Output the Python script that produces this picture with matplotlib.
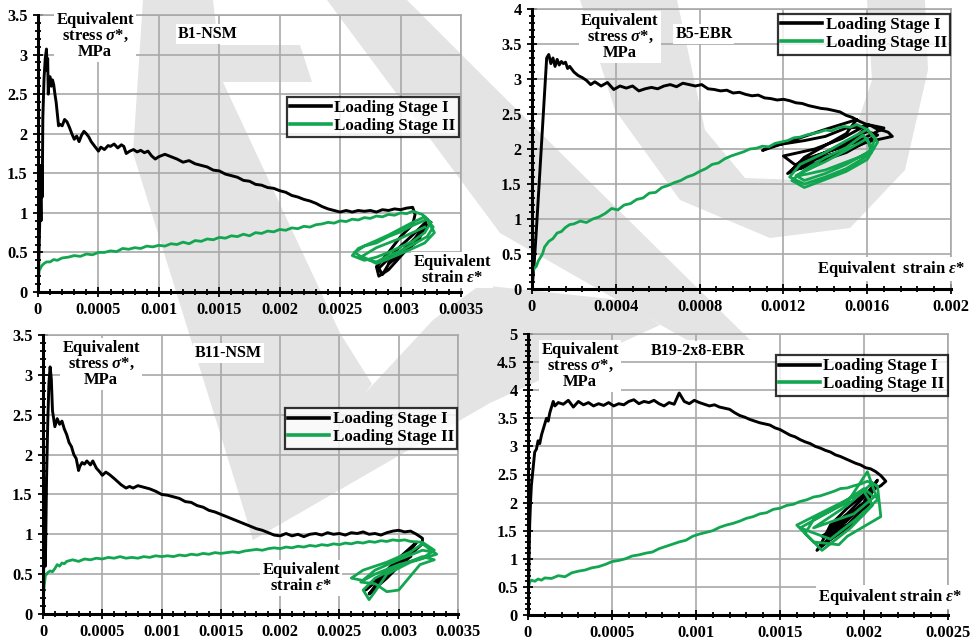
import matplotlib
matplotlib.use("Agg")
import matplotlib.pyplot as plt
from matplotlib.patches import Polygon
from matplotlib.ticker import MultipleLocator

plt.rcParams['font.family'] = ['Liberation Serif', 'DejaVu Serif']
plt.rcParams['font.weight'] = 'bold'
plt.rcParams['mathtext.fontset'] = 'custom'
plt.rcParams['mathtext.it'] = 'Liberation Serif:italic:bold'
plt.rcParams['mathtext.rm'] = 'Liberation Serif:bold'

# ---------------- data ----------------
series_names = ["Loading Stage I", "Loading Stage II"]
panel_titles = ["B1-NSM", "B5-EBR", "B11-NSM", "B19-2x8-EBR"]

# B1-NSM
b1_I_x = [0, 0.00001, 0.00002, 0.000025, 0.00003, 0.000035, 0.00004, 0.00005, 0.00006, 0.00007, 0.000075,
          0.00008, 0.000085, 0.00009, 0.0001, 0.00011, 0.00012, 0.00013, 0.00014, 0.00015, 0.00016, 0.00017,
          0.00018, 0.0002, 0.00022, 0.00024, 0.00026, 0.00028, 0.0003, 0.00032, 0.00034, 0.00036, 0.00038,
          0.0004, 0.00042, 0.00044, 0.00046, 0.00048, 0.0005, 0.00052, 0.00055, 0.00058, 0.0006, 0.00063,
          0.00066, 0.00069, 0.00071, 0.00073, 0.00076, 0.00079, 0.00082, 0.00085, 0.00088, 0.00091, 0.00094,
          0.00097, 0.001, 0.00105, 0.0011, 0.00115, 0.0012, 0.00125, 0.0013, 0.00135, 0.0014, 0.00145, 0.0015,
          0.00155, 0.0016, 0.00165, 0.0017, 0.00175, 0.0018, 0.00185, 0.0019, 0.00195, 0.002, 0.00205, 0.0021,
          0.00215, 0.0022, 0.00225, 0.0023, 0.00235, 0.0024, 0.00245, 0.0025, 0.00255, 0.0026, 0.00265, 0.0027,
          0.00275, 0.0028, 0.00285, 0.0029, 0.00295, 0.003, 0.00305, 0.0031,
          0.00312, 0.0031, 0.003, 0.0029, 0.0028, 0.00282, 0.0029, 0.003, 0.0031, 0.00318, 0.00322, 0.0031,
          0.003, 0.0029, 0.00282, 0.00285, 0.0029, 0.003, 0.00312, 0.0032, 0.00315, 0.003, 0.0029, 0.00295,
          0.0031, 0.00325]
b1_I_y = [0, 0.6, 1.3, 0.9, 1.6, 1.2, 2.2, 2.7, 2.95, 3.07, 2.8,
          2.95, 2.5, 2.7, 2.72, 2.6, 2.68, 2.62, 2.5, 2.4, 2.25, 2.1,
          2.12, 2.1, 2.18, 2.15, 2.08, 2.0, 1.93, 1.97, 1.9, 1.98, 2.03,
          2.0, 1.96, 1.9, 1.86, 1.82, 1.78, 1.83, 1.8, 1.85, 1.84, 1.87,
          1.82, 1.86, 1.84, 1.75, 1.78, 1.8, 1.77, 1.79, 1.76, 1.78, 1.72,
          1.68, 1.71, 1.74, 1.71, 1.68, 1.64, 1.66, 1.62, 1.6, 1.58, 1.54, 1.53,
          1.49, 1.47, 1.45, 1.41, 1.4, 1.36, 1.35, 1.32, 1.31, 1.28, 1.26, 1.22,
          1.2, 1.17, 1.15, 1.12, 1.08, 1.05, 1.03, 1.01, 1.03, 1.01, 1.03, 1.02,
          1.03, 1.01, 1.04, 1.03, 1.05, 1.04, 1.06, 1.07,
          0.98, 0.85, 0.7, 0.5, 0.32, 0.2, 0.28, 0.45, 0.62, 0.78, 0.9, 0.72,
          0.58, 0.42, 0.3, 0.22, 0.35, 0.5, 0.68, 0.85, 0.65, 0.48, 0.36, 0.45,
          0.6, 0.88]
b1_II_x = [0, 0.000005, 0.00001, 0.00002, 0.00003, 0.00005, 0.00007, 0.0001, 0.00013, 0.00016, 0.0002,
           0.00025, 0.0003, 0.00035, 0.0004, 0.00045, 0.0005, 0.00055, 0.0006, 0.00065, 0.0007, 0.00075,
           0.0008, 0.00085, 0.0009, 0.00095, 0.001, 0.00105, 0.0011, 0.00115, 0.0012, 0.00125, 0.0013,
           0.00135, 0.0014, 0.00145, 0.0015, 0.00155, 0.0016, 0.00165, 0.0017, 0.00175, 0.0018, 0.00185,
           0.0019, 0.00195, 0.002, 0.00205, 0.0021, 0.00215, 0.0022, 0.00225, 0.0023, 0.00235, 0.0024,
           0.00245, 0.0025, 0.00255, 0.0026, 0.00265, 0.0027, 0.00275, 0.0028, 0.00285, 0.0029, 0.00295,
           0.003, 0.00305, 0.0031,
           0.00318, 0.00325, 0.0032, 0.0031, 0.003, 0.0029, 0.0028, 0.0027, 0.0026, 0.00265, 0.0028, 0.0029,
           0.003, 0.0031, 0.0032, 0.00327, 0.00322, 0.0031, 0.003, 0.0029, 0.0028, 0.0027, 0.00262, 0.0027,
           0.0028, 0.0029, 0.003, 0.0031, 0.00322, 0.00328, 0.0032, 0.0031, 0.0029, 0.0028, 0.00268, 0.0028,
           0.003, 0.0032]
b1_II_y = [0, 0.2, 0.27, 0.3, 0.33, 0.36, 0.38, 0.38, 0.41, 0.4, 0.43,
           0.44, 0.46, 0.45, 0.48, 0.47, 0.5, 0.5, 0.52, 0.51, 0.55, 0.54,
           0.56, 0.55, 0.58, 0.57, 0.59, 0.58, 0.61, 0.6, 0.63, 0.61, 0.65,
           0.64, 0.67, 0.66, 0.69, 0.68, 0.71, 0.7, 0.73, 0.71, 0.75, 0.74,
           0.77, 0.76, 0.79, 0.78, 0.81, 0.8, 0.83, 0.82, 0.85, 0.86, 0.88,
           0.87, 0.9, 0.89, 0.92, 0.91, 0.94, 0.93, 0.96, 0.95, 0.98, 0.97,
           1.0, 0.99, 1.02,
           0.98, 0.88, 0.75, 0.64, 0.57, 0.5, 0.44, 0.4, 0.46, 0.55, 0.65, 0.72,
           0.8, 0.88, 0.95, 0.82, 0.7, 0.6, 0.52, 0.46, 0.38, 0.42, 0.5, 0.58,
           0.62, 0.7, 0.76, 0.84, 0.92, 0.75, 0.62, 0.55, 0.42, 0.36, 0.45, 0.56,
           0.68, 0.82]

# B5-EBR
b5_I_x = [0, 0.00001, 0.00002, 0.00003, 0.00004, 0.00005, 0.00006, 0.00007, 0.00008, 0.00009, 0.0001,
          0.00011, 0.00012, 0.00013, 0.00014, 0.00015, 0.00016, 0.00017, 0.00018, 0.0002, 0.00022, 0.00024,
          0.00026, 0.00028, 0.0003, 0.00033, 0.00036, 0.00039, 0.00042, 0.00045, 0.00048, 0.00051, 0.00054,
          0.00057, 0.0006, 0.00063, 0.00066, 0.00069, 0.00072, 0.00075, 0.00078, 0.00081, 0.00084, 0.00087,
          0.0009, 0.00093, 0.00096, 0.00099, 0.00102, 0.00105, 0.00108, 0.00111, 0.00114, 0.00117, 0.0012,
          0.00123, 0.00126, 0.00129, 0.00132, 0.00135, 0.00138, 0.00141, 0.00144, 0.00147, 0.0015, 0.00153,
          0.00156, 0.00159, 0.00162, 0.00165, 0.00168, 0.0017, 0.00172,
          0.0016, 0.0015, 0.0014, 0.0013, 0.00124, 0.0013, 0.0014, 0.0015, 0.00155, 0.0014, 0.0013, 0.0012,
          0.0011, 0.00115, 0.0013, 0.0014, 0.0015, 0.0016, 0.0015, 0.0014, 0.0013, 0.00122, 0.0013, 0.0014,
          0.0015, 0.0016, 0.00165, 0.0015, 0.0014, 0.00128, 0.0012, 0.00135, 0.00148, 0.0016, 0.00168,
          0.00155, 0.0014, 0.00126]
b5_I_y = [0, 0.35, 0.8, 1.3, 1.8, 2.3, 2.8, 3.3, 3.35, 3.22, 3.3,
          3.18, 3.28, 3.2, 3.25, 3.22, 3.24, 3.15, 3.18, 3.1, 3.05, 3.02,
          2.98, 2.92, 2.96, 2.9, 2.95, 2.85, 2.9, 2.87, 2.9, 2.83, 2.86,
          2.88, 2.86, 2.9, 2.92, 2.89, 2.94, 2.92, 2.9, 2.92, 2.86, 2.85,
          2.83, 2.84, 2.8, 2.81, 2.78, 2.76, 2.77, 2.73, 2.72, 2.7, 2.71,
          2.69, 2.66, 2.65, 2.62, 2.6, 2.58, 2.57, 2.55, 2.53, 2.48, 2.45,
          2.4, 2.36, 2.33, 2.28, 2.26, 2.24, 2.18,
          2.1, 1.98, 1.9, 1.8, 1.7, 1.88, 2.05, 2.22, 2.42, 2.28, 2.18, 2.08,
          1.98, 2.05, 2.12, 2.18, 2.3, 2.32, 2.05, 1.95, 1.75, 1.65, 1.85, 1.95,
          2.1, 2.25, 2.2, 1.95, 1.85, 1.72, 1.9, 2.0, 2.15, 2.35, 2.3,
          2.1, 1.95, 1.78]
b5_II_x = [0, 0.000003, 0.00001, 0.00002, 0.00003, 0.00004, 0.00005, 0.00006, 0.00008, 0.0001, 0.00012,
           0.00014, 0.00016, 0.00018, 0.0002, 0.00023, 0.00026, 0.00029, 0.00032, 0.00035, 0.00038, 0.00041,
           0.00044, 0.00047, 0.0005, 0.00053, 0.00056, 0.00059, 0.00062, 0.00065, 0.00068, 0.00071, 0.00074,
           0.00077, 0.0008, 0.00083, 0.00086, 0.00089, 0.00092, 0.00095, 0.00098, 0.00101, 0.00104, 0.00107,
           0.0011, 0.00113, 0.00116, 0.00119, 0.00122, 0.00125, 0.00128, 0.00131, 0.00134, 0.00137, 0.0014,
           0.00143, 0.00146, 0.00149, 0.00152, 0.00155,
           0.0016, 0.00164, 0.0016, 0.0015, 0.0014, 0.0013, 0.00123, 0.00128, 0.0014, 0.0015, 0.0016, 0.00165,
           0.0016, 0.0015, 0.0013, 0.00124, 0.0013, 0.0014, 0.0015, 0.00158, 0.00163, 0.0015, 0.0014, 0.0013,
           0.00126, 0.0014, 0.0015, 0.0016, 0.00162, 0.0014, 0.00128]
b5_II_y = [0, 0.22, 0.3, 0.32, 0.4, 0.45, 0.5, 0.6, 0.68, 0.72, 0.8,
           0.82, 0.88, 0.92, 0.93, 0.97, 0.95, 1.0, 1.03, 1.08, 1.15, 1.13,
           1.2, 1.22, 1.28, 1.3, 1.37, 1.38, 1.45, 1.48, 1.52, 1.55, 1.6,
           1.63, 1.68, 1.72, 1.78, 1.8, 1.86, 1.9, 1.93, 1.96, 2.0, 2.01,
           2.04, 2.03, 2.08, 2.1, 2.12, 2.16, 2.17, 2.2, 2.22, 2.24, 2.27,
           2.26, 2.3, 2.32, 2.31, 2.35,
           2.28, 2.15, 1.9, 1.72, 1.6, 1.5, 1.6, 1.78, 1.95, 2.12, 2.28, 2.1,
           1.85, 1.68, 1.45, 1.55, 1.7, 1.88, 2.02, 2.2, 2.0, 1.78, 1.65, 1.55,
           1.62, 1.82, 1.98, 2.15, 1.95, 1.7, 1.62]

# B11-NSM
b11_I_x = [0, 0.00001, 0.00002, 0.00003, 0.00004, 0.00005, 0.00006, 0.00007, 0.00008, 0.00009, 0.0001,
           0.00012, 0.00014, 0.00016, 0.00018, 0.0002, 0.00022, 0.00024, 0.00026, 0.00028, 0.0003, 0.00031,
           0.00033, 0.00035, 0.00037, 0.0004, 0.00042, 0.00045, 0.00048, 0.0005, 0.00053, 0.00056, 0.0006,
           0.00063, 0.00066, 0.0007, 0.00073, 0.00076, 0.0008, 0.00085, 0.0009, 0.00095, 0.001, 0.00105, 0.0011,
           0.00115, 0.0012, 0.00125, 0.0013, 0.00135, 0.0014, 0.00145, 0.0015, 0.00155, 0.0016, 0.00165, 0.0017,
           0.00175, 0.0018, 0.00185, 0.0019, 0.00195, 0.002, 0.00205, 0.0021, 0.00215, 0.0022, 0.00225, 0.0023,
           0.00235, 0.0024, 0.00245, 0.0025, 0.00255, 0.0026, 0.00265, 0.0027, 0.00275, 0.0028, 0.00285, 0.0029,
           0.00295, 0.003, 0.00305, 0.0031, 0.00315, 0.0032,
           0.0032, 0.0031, 0.003, 0.0029, 0.0028, 0.00275, 0.0028, 0.0029, 0.003, 0.0031, 0.00315, 0.003,
           0.0029, 0.0028, 0.00272, 0.0028, 0.003, 0.0031]
b11_I_y = [0, 1.0, 0.6, 1.7, 2.4, 2.9, 3.1, 2.95, 2.55, 2.45, 2.35,
           2.45, 2.38, 2.42, 2.32, 2.25, 2.15, 2.1, 2.0, 1.95, 1.8, 1.85,
           1.9, 1.88, 1.92, 1.87, 1.92, 1.83, 1.78, 1.74, 1.78, 1.75, 1.7,
           1.66, 1.62, 1.58, 1.6, 1.58, 1.61, 1.59, 1.57, 1.54, 1.5, 1.49, 1.47,
           1.45, 1.41, 1.4, 1.36, 1.34, 1.3, 1.28, 1.25, 1.22, 1.19, 1.16, 1.13,
           1.1, 1.07, 1.05, 1.02, 0.99, 0.98, 1.01, 0.98, 1.0, 0.97, 1.0, 1.01,
           0.99, 1.02, 1.0, 1.01, 0.99, 1.02, 1.01, 1.03, 1.0, 1.01, 0.99, 1.02,
           1.04, 1.05, 1.03, 1.04, 1.0, 0.95,
           0.88, 0.75, 0.6, 0.45, 0.32, 0.25, 0.35, 0.5, 0.65, 0.8, 0.9, 0.7,
           0.55, 0.4, 0.3, 0.42, 0.6, 0.72]
b11_II_x = [0, 0.000003, 0.00001, 0.00002, 0.00004, 0.00006, 0.00008, 0.0001, 0.00012, 0.00014, 0.00016,
            0.00018, 0.0002, 0.00025, 0.0003, 0.00035, 0.0004, 0.00045, 0.0005, 0.00055, 0.0006, 0.00065,
            0.0007, 0.00075, 0.0008, 0.00085, 0.0009, 0.00095, 0.001, 0.00105, 0.0011, 0.00115, 0.0012,
            0.00125, 0.0013, 0.00135, 0.0014, 0.00145, 0.0015, 0.00155, 0.0016, 0.00165, 0.0017, 0.00175,
            0.0018, 0.00185, 0.0019, 0.00195, 0.002, 0.00205, 0.0021, 0.00215, 0.0022, 0.00225, 0.0023,
            0.00235, 0.0024, 0.00245, 0.0025, 0.00255, 0.0026, 0.00265, 0.0027, 0.00275, 0.0028, 0.00285,
            0.0029, 0.00295, 0.003, 0.00305, 0.0031,
            0.0032, 0.0033, 0.0032, 0.003, 0.0028, 0.0027, 0.0026, 0.0027, 0.0029, 0.0031, 0.0032, 0.00332,
            0.0031, 0.0029, 0.0028, 0.00275, 0.0027, 0.0028, 0.003, 0.0032, 0.0033, 0.00318, 0.003, 0.0029,
            0.0028, 0.00268, 0.0028, 0.003, 0.0032, 0.00328]
b11_II_y = [0, 0.2, 0.35, 0.48, 0.52, 0.54, 0.53, 0.57, 0.62, 0.6, 0.64,
            0.63, 0.66, 0.68, 0.66, 0.69, 0.68, 0.7, 0.69, 0.71, 0.7, 0.72,
            0.7, 0.71, 0.7, 0.72, 0.71, 0.73, 0.72, 0.73, 0.72, 0.74, 0.73,
            0.75, 0.74, 0.76, 0.75, 0.77, 0.76, 0.77, 0.78, 0.77, 0.79, 0.8,
            0.81, 0.8, 0.82, 0.83, 0.82, 0.84, 0.83, 0.85, 0.84, 0.86, 0.85,
            0.87, 0.86, 0.88, 0.87, 0.89, 0.88, 0.9, 0.89, 0.91, 0.9, 0.92,
            0.91, 0.93, 0.92, 0.93, 0.91,
            0.9, 0.8, 0.7, 0.62, 0.5, 0.42, 0.45, 0.55, 0.65, 0.78, 0.88, 0.75,
            0.65, 0.5, 0.28, 0.18, 0.3, 0.45, 0.6, 0.72, 0.68, 0.62, 0.3, 0.28,
            0.38, 0.4, 0.55, 0.68, 0.8, 0.78]

# B19-2x8-EBR
b19_I_x = [0, 0.000005, 0.00001, 0.000015, 0.00002, 0.00003, 0.00004, 0.00005, 0.00006, 0.00007, 0.00008,
           0.00009, 0.0001, 0.00011, 0.00012, 0.00013, 0.00014, 0.00015, 0.00016, 0.00018, 0.00021, 0.00024,
           0.00027, 0.0003, 0.00033, 0.00036, 0.00039, 0.00042, 0.00045, 0.00048, 0.00051, 0.00054, 0.00057,
           0.0006, 0.00063, 0.00066, 0.00069, 0.00072, 0.00075, 0.00078, 0.00081, 0.00084, 0.00087, 0.0009,
           0.00093, 0.00096, 0.00099, 0.00102, 0.00105, 0.00108, 0.00111, 0.00114, 0.00117, 0.0012, 0.00123,
           0.00126, 0.00129, 0.00132, 0.00135, 0.00138, 0.00141, 0.00144, 0.00147, 0.0015, 0.00153, 0.00156,
           0.00159, 0.00162, 0.00165, 0.00168, 0.00171, 0.00174, 0.00177, 0.0018, 0.00183, 0.00186, 0.00189,
           0.00192, 0.00195, 0.00198, 0.00201, 0.00204, 0.00207, 0.0021, 0.00213,
           0.0021, 0.002, 0.0019, 0.0018, 0.00175, 0.00172, 0.0018, 0.0019, 0.002, 0.00205, 0.002, 0.0019,
           0.0018, 0.00175, 0.0018, 0.0019, 0.002, 0.00208, 0.002, 0.0019, 0.0018, 0.00178, 0.0019, 0.002,
           0.00204, 0.00196, 0.00185, 0.00176, 0.00182, 0.00192, 0.00198, 0.00188, 0.00178, 0.0019]
b19_I_y = [0, 0.8, 1.6, 2.0, 2.3, 2.6, 2.9, 2.95, 3.1, 3.05, 3.2,
           3.3, 3.4, 3.5, 3.45, 3.6, 3.7, 3.8, 3.72, 3.78, 3.75, 3.82,
           3.7, 3.8, 3.74, 3.78, 3.72, 3.76, 3.73, 3.78, 3.72, 3.76, 3.74,
           3.8, 3.83, 3.76, 3.8, 3.78, 3.82, 3.76, 3.72, 3.78, 3.75, 3.95,
           3.8, 3.76, 3.82, 3.78, 3.75, 3.72, 3.74, 3.7, 3.68, 3.66, 3.6,
           3.55, 3.52, 3.48, 3.45, 3.42, 3.4, 3.38, 3.33, 3.3, 3.25, 3.2,
           3.17, 3.12, 3.08, 3.05, 3.0, 2.97, 2.93, 2.9, 2.85, 2.82, 2.78,
           2.74, 2.7, 2.67, 2.62, 2.6, 2.55, 2.48, 2.38,
           2.3, 2.15, 1.9, 1.6, 1.3, 1.15, 1.35, 1.6, 1.9, 2.2, 2.0, 1.75,
           1.5, 1.4, 1.45, 1.7, 2.0, 2.4, 2.1, 1.8, 1.55, 1.3, 1.55, 1.8,
           2.05, 1.85, 1.55, 1.25, 1.5, 1.75, 1.95, 1.65, 1.4, 1.6]
b19_II_x = [0, 0.000003, 0.00001, 0.00002, 0.00004, 0.00006, 0.00008, 0.0001, 0.00014, 0.00018, 0.00022,
            0.00026, 0.0003, 0.00034, 0.00038, 0.00042, 0.00046, 0.0005, 0.00054, 0.00058, 0.00062, 0.00066,
            0.0007, 0.00074, 0.00078, 0.00082, 0.00086, 0.0009, 0.00094, 0.00098, 0.00102, 0.00106, 0.0011,
            0.00114, 0.00118, 0.00122, 0.00126, 0.0013, 0.00134, 0.00138, 0.00142, 0.00146, 0.0015, 0.00154,
            0.00158, 0.00162, 0.00166, 0.0017, 0.00174, 0.00178, 0.00182, 0.00186, 0.0019, 0.00194, 0.00198,
            0.00202,
            0.00208, 0.0021, 0.0019, 0.00185, 0.0017, 0.0016, 0.0018, 0.002, 0.00205, 0.00192, 0.00175, 0.00165,
            0.0017, 0.0019, 0.00202, 0.00208, 0.00195, 0.0018, 0.00162, 0.0018, 0.002, 0.00206, 0.00194, 0.0017,
            0.0019, 0.00205]
b19_II_y = [0, 0.5, 0.58, 0.62, 0.6, 0.64, 0.62, 0.66, 0.65, 0.7, 0.68,
            0.75, 0.78, 0.8, 0.84, 0.86, 0.9, 0.95, 0.97, 1.0, 1.05, 1.07,
            1.1, 1.12, 1.18, 1.22, 1.26, 1.3, 1.33, 1.4, 1.44, 1.47, 1.5,
            1.56, 1.6, 1.63, 1.67, 1.72, 1.75, 1.8, 1.82, 1.88, 1.9, 1.95,
            1.97, 2.02, 2.05, 2.1, 2.12, 2.16, 2.2, 2.25, 2.26, 2.3, 2.33,
            2.38,
            2.3, 1.75, 1.4, 1.25, 1.3, 1.6, 1.9, 2.2, 1.95, 1.55, 1.15, 1.45,
            1.7, 2.0, 2.55, 2.05, 1.7, 1.35, 1.55, 1.85, 2.25, 2.1, 1.8, 1.55,
            1.95, 2.35]

# axis ticks
x_ticks_nsm = [0, 0.0005, 0.001, 0.0015, 0.002, 0.0025, 0.003, 0.0035]
x_labels_nsm = ["0", "0.0005", "0.001", "0.0015", "0.002", "0.0025", "0.003", "0.0035"]
x_ticks_b5 = [0, 0.0004, 0.0008, 0.0012, 0.0016, 0.002]
x_labels_b5 = ["0", "0.0004", "0.0008", "0.0012", "0.0016", "0.002"]
x_ticks_b19 = [0, 0.0005, 0.001, 0.0015, 0.002, 0.0025]
x_labels_b19 = ["0", "0.0005", "0.001", "0.0015", "0.002", "0.0025"]
y_ticks_35 = [0, 0.5, 1, 1.5, 2, 2.5, 3, 3.5]
y_labels_35 = ["0", "0.5", "1", "1.5", "2", "2.5", "3", "3.5"]
y_ticks_4 = [0, 0.5, 1, 1.5, 2, 2.5, 3, 3.5, 4]
y_labels_4 = ["0", "0.5", "1", "1.5", "2", "2.5", "3", "3.5", "4"]
y_ticks_5 = [0, 0.5, 1, 1.5, 2, 2.5, 3, 3.5, 4, 4.5, 5]
y_labels_5 = ["0", "0.5", "1", "1.5", "2", "2.5", "3", "3.5", "4", "4.5", "5"]

# ---------------- figure ----------------
W, H = 975, 643
fig = plt.figure(figsize=(9.75, 6.43), dpi=100)
fig.patch.set_facecolor('white')

def px(pts):
    return [(x / W, 1 - y / H) for x, y in pts]

wm = '#e4e4e4'
wm_polys = [
    [(143, 0), (213, 0), (222, 80), (340, 333), (372, 384), (253, 540), (247, 520), (133, 153)],
    [(205, 45), (300, 45), (312, 82), (215, 82)],
    [(327, 0), (407, 0), (500, 93), (750, 340), (687, 340), (500, 233)],
    [(247, 520), (433, 320), (480, 285), (620, 300), (660, 325), (490, 403), (253, 540)],
    [(580, 0), (615, 110), (680, 200), (770, 238), (850, 228), (905, 170), (928, 70), (925, 0),
     (867, 0), (872, 80), (850, 145), (800, 180), (745, 178), (705, 130), (677, 0)],
]
for p in wm_polys:
    fig.add_artist(Polygon(px(p), closed=True, transform=fig.transFigure,
                           facecolor=wm, edgecolor='none', zorder=-5))

green = '#12a650'
grid_c = '#a8a8a8'
fs_tick = 11.8
fs_lab = 12.0
fs_title = 11.5
fs_leg = 12.2
axes_list = []

def make_panel(rect_px, xI, yI, xII, yII, xlim, ylim, xt, xl, yt, yl, xminor, yminor,
               title, title_xy, leg_anchor, strain_txt, strain_xy, strain_ha, stress_xy):
    l, t, r, b = rect_px
    ax = fig.add_axes([l / W, 1 - b / H, (r - l) / W, (b - t) / H])
    ax.patch.set_alpha(0)
    ax.plot(xI, yI, color='black', lw=2.1, label=series_names[0], zorder=3)
    ax.plot(xII, yII, color=green, lw=2.0, label=series_names[1], zorder=4)
    ax.set_xticks(xt, xl)
    ax.set_yticks(yt, yl)
    ax.xaxis.set_minor_locator(MultipleLocator(xminor))
    ax.yaxis.set_minor_locator(MultipleLocator(yminor))
    ax.set_xlim(*xlim)
    ax.set_ylim(*ylim)
    ax.grid(True, which='major', color=grid_c, lw=1.2, zorder=0)
    ax.set_axisbelow(True)
    for s in ['top', 'right']:
        ax.spines[s].set_color(grid_c)
        ax.spines[s].set_linewidth(1.2)
    for s in ['left', 'bottom']:
        ax.spines[s].set_color('black')
        ax.spines[s].set_linewidth(2.2)
        ax.spines[s].set_zorder(5)
    ax.tick_params(which='both', direction='inout', color='black', width=1.3)
    ax.tick_params(which='major', length=7, pad=4, labelsize=fs_tick)
    ax.tick_params(which='minor', length=5)
    bb = dict(facecolor='white', edgecolor='none', pad=1.5)
    ax.text(stress_xy[0], stress_xy[1], "Equivalent\nstress $\\sigma$*,\nMPa", transform=ax.transAxes,
            ha='center', va='center', fontsize=fs_lab, fontweight='bold', linespacing=1.0, bbox=bb, zorder=6)
    ax.text(title_xy[0], title_xy[1], title, transform=ax.transAxes, ha='center', va='center',
            fontsize=fs_title, fontweight='bold', bbox=bb, zorder=6)
    ax.text(strain_xy[0], strain_xy[1], strain_txt, transform=ax.transAxes, ha=strain_ha, va='center',
            fontsize=fs_lab, fontweight='bold', linespacing=1.0, bbox=bb, zorder=6, clip_on=False)
    leg = ax.legend(loc='upper right', bbox_to_anchor=leg_anchor, frameon=True, fancybox=False,
                    handlelength=2.4, handletextpad=0.2, borderpad=0.2, labelspacing=0.1,
                    prop={'family': 'Liberation Serif', 'weight': 'bold', 'size': fs_leg}, borderaxespad=0)
    leg.get_frame().set_edgecolor('black')
    leg.get_frame().set_linewidth(1.6)
    for ln in leg.get_lines():
        ln.set_linewidth(2.6)
    leg.set_zorder(7)
    axes_list.append(ax)
    return ax

make_panel((38, 15, 461, 292), b1_I_x, b1_I_y, b1_II_x, b1_II_y, (0, 0.0035), (0, 3.5),
           x_ticks_nsm, x_labels_nsm, y_ticks_35, y_labels_35, 0.0001, 0.1,
           panel_titles[0], (0.402, 0.93), (0.995, 0.704),
           "Equivalent\nstrain $\\varepsilon$*", (0.979, 0.08), 'center', (0.135, 0.925))
make_panel((532, 9, 951, 289), b5_I_x, b5_I_y, b5_II_x, b5_II_y, (0, 0.002), (0, 4),
           x_ticks_b5, x_labels_b5, y_ticks_4, y_labels_4, 0.00008, 0.1,
           panel_titles[1], (0.41, 0.91), (0.998, 0.982),
           "Equivalent  strain $\\varepsilon$*", (1.033, 0.07), 'right', (0.21, 0.9))
make_panel((43, 335, 458, 614), b11_I_x, b11_I_y, b11_II_x, b11_II_y, (0, 0.0035), (0, 3.5),
           x_ticks_nsm, x_labels_nsm, y_ticks_35, y_labels_35, 0.0001, 0.1,
           panel_titles[2], (0.446, 0.935), (0.998, 0.738),
           "Equivalent\nstrain $\\varepsilon$*", (0.622, 0.13), 'center', (0.14, 0.895))
make_panel((528, 334, 948, 615), b19_I_x, b19_I_y, b19_II_x, b19_II_y, (0, 0.0025), (0, 5),
           x_ticks_b19, x_labels_b19, y_ticks_5, y_labels_5, 0.0001, 0.1,
           panel_titles[3], (0.405, 0.94), (1.0, 0.925),
           "Equivalent strain $\\varepsilon$*", (1.033, 0.065), 'right', (0.124, 0.885))

fig.canvas.draw()
for ax in axes_list:
    for lab in ax.get_xticklabels() + ax.get_yticklabels():
        lab.set_fontweight('bold')
        lab.set_fontfamily('Liberation Serif')

fig.savefig("out.png", dpi=100, facecolor='white')
